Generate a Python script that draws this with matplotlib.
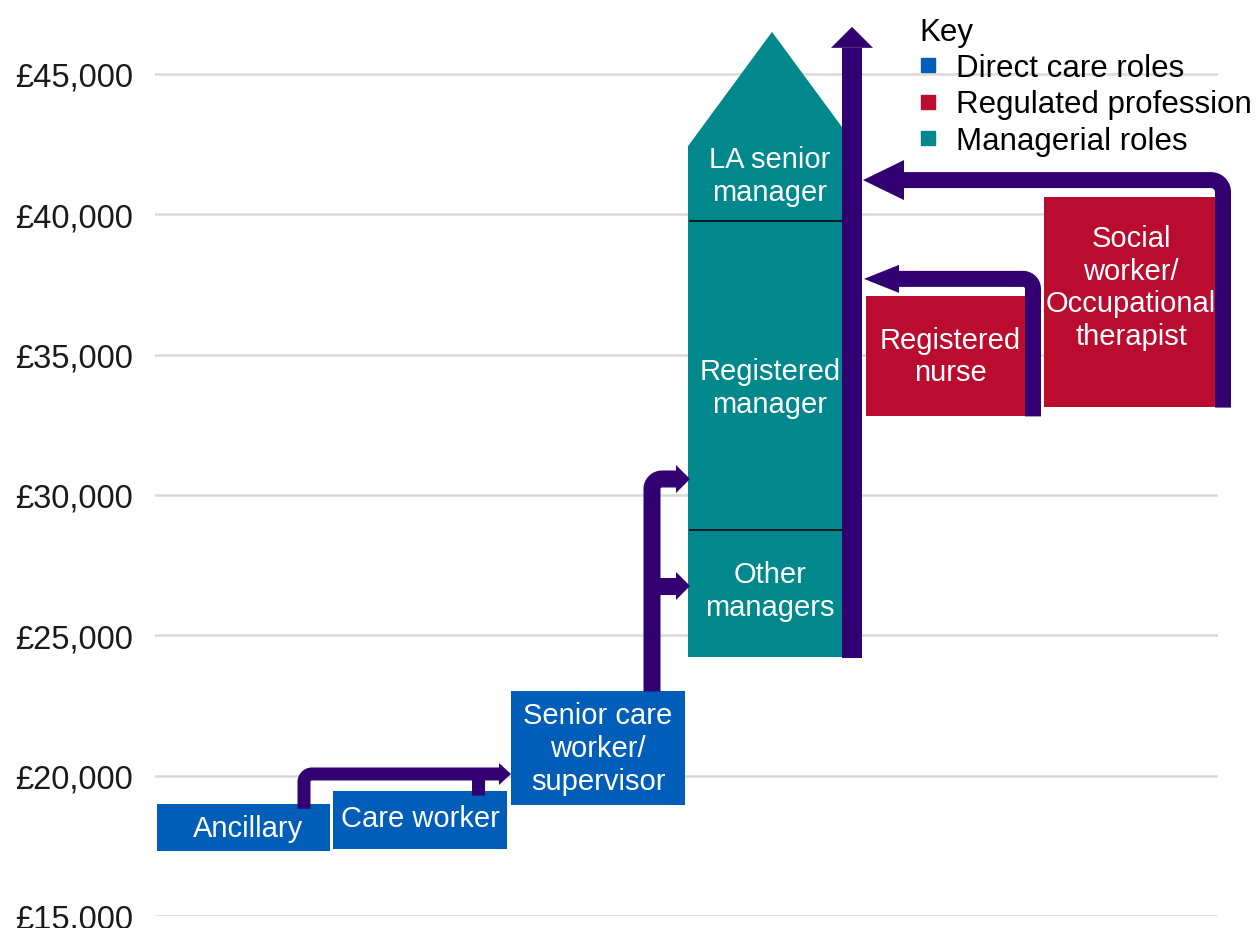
import matplotlib.pyplot as plt
import numpy as np
from matplotlib.lines import Line2D

plt.rcParams['font.family'] = ['Liberation Sans', 'DejaVu Sans']

# salary bands (GBP)
roles = ['Ancillary', 'Care worker', 'Senior care\nworker/\nsupervisor',
         'Other\nmanagers', 'Registered\nmanager', 'LA senior\nmanager',
         'Registered\nnurse', 'Social\nworker/\nOccupational\ntherapist']
role_group = ['direct', 'direct', 'direct', 'manager', 'manager', 'manager',
              'regulated', 'regulated']
salary_low = [17300, 17400, 18950, 24230, 28750, 39760, 32800, 33150]
salary_high = [19000, 19450, 23000, 28750, 39760, 42430, 37100, 40600]

# progression arrows: salary level where each route runs / points
route_direct = 20060          # ancillary / care worker -> senior care worker
route_senior = [30570, 26760]  # senior care worker -> registered / other managers
route_nurse = 37700
route_social = 41220
ladder = [24200, 46680]       # management ladder, bottom to tip

key_labels = ['Direct care roles', 'Regulated profession', 'Managerial roles']
yticks = [15000, 20000, 25000, 30000, 35000, 40000, 45000]

# styles / layout
colors = {'direct': '#005EB8', 'regulated': '#BA0C2F', 'manager': '#00888C'}
arrow_c = '#330072'
W, H = 1258, 929
PY = 1000 / 28.067           # salary units per pixel
box_left = [157, 333, 511, 688, 688, 688, 866, 1044]
box_right = [330, 507, 685, 856, 856, 856, 1025, 1215]
text_x = [248, 420, 598, 770, 770, 770, 950, 1131]
text_dy = [0, -2, 0, -3, 12, -8, 0, -15]   # pixel nudges of the labels (+ = down)
roof_peak = 46500

fig = plt.figure(figsize=(W / 100, H / 100), dpi=100)
ax = fig.add_axes([155 / W, 12 / H, 1063 / W, 917 / H])
ax.set_xlim(155, 1218)
ax.set_ylim(15000, 15000 + 917 * PY)
for s in ax.spines.values():
    s.set_visible(False)
ax.set_xticks([])
ax.set_yticks(yticks)
ax.set_yticklabels([f'£{v:,}' for v in yticks], fontsize=23.5, color='#1a1a1a')
ax.tick_params(axis='y', length=0, pad=16)
for v in yticks:
    ax.axhline(v, color='#d9d9d9', lw=1.8, zorder=0)

# boxes
for i, r in enumerate(roles):
    c = colors[role_group[i]]
    x0, x1 = box_left[i], box_right[i]
    lo, hi = salary_low[i], salary_high[i]
    if i == 5:
        # top managerial box drawn as a house shape
        ax.fill([x0, x1, x1, (x0 + x1) / 2, x0], [lo, lo, hi, roof_peak, hi],
                color=c, lw=0, zorder=2, clip_on=False)
    else:
        ax.fill([x0, x1, x1, x0], [lo, lo, hi, hi], color=c, lw=0, zorder=2,
                clip_on=False)
    ax.text(text_x[i], (lo + hi) / 2 - text_dy[i] * PY, r, color='white',
            fontsize=21, ha='center', va='center', linespacing=1.22, zorder=5)

# dividers inside the managerial column
for v in salary_low[4:6]:
    ax.plot([690, 843], [v, v], color='black', lw=1.1, zorder=3)


def bent_arrow(x0, y0, y1, x1, width, head_len, head_half, r):
    d = 1 if x1 > x0 else -1
    cx, cy = x0 + d * r, y1 - r * PY
    t = np.linspace(np.pi if d > 0 else 0, np.pi / 2, 20)
    xs = np.concatenate([[x0], cx + r * np.cos(t), [x1 - d * head_len]])
    ys = np.concatenate([[y0], cy + r * np.sin(t) * PY, [y1]])
    ax.plot(xs, ys, color=arrow_c, lw=width * 0.72, solid_capstyle='butt',
            solid_joinstyle='round', zorder=4, clip_on=False)
    arrow_head(x1, y1, d, head_len, head_half)


def arrow_head(x1, y1, d, head_len, head_half):
    ax.fill([x1, x1 - d * head_len, x1 - d * head_len],
            [y1, y1 + head_half * PY, y1 - head_half * PY],
            color=arrow_c, lw=0, zorder=4, clip_on=False)


# ancillary -> senior care, with care worker branch
bent_arrow(304, salary_high[0] - 5 * PY, route_direct, 511, 13, 12, 11, 8)
ax.plot([478, 478], [route_direct, salary_high[1] - 4 * PY], color=arrow_c,
        lw=13 * 0.72, solid_capstyle='butt', zorder=4)

# senior care -> managers
bent_arrow(652, salary_high[2], route_senior[0], 690, 17, 14, 14, 10)
ax.plot([652, 676], [route_senior[1]] * 2, color=arrow_c, lw=17 * 0.72,
        solid_capstyle='butt', zorder=4)
arrow_head(690, route_senior[1], 1, 14, 14)

# management ladder
ax.plot([852, 852], [ladder[0], ladder[1] - 21 * PY], color=arrow_c,
        lw=20 * 0.72, solid_capstyle='butt', zorder=4, clip_on=False)
ax.fill([831, 873, 852], [ladder[1] - 21 * PY, ladder[1] - 21 * PY, ladder[1]],
        color=arrow_c, lw=0, zorder=4, clip_on=False)

# regulated professions -> management
bent_arrow(1033, salary_low[6], route_nurse, 864, 16, 35, 14, 10)
bent_arrow(1223, salary_low[7] - 1 * PY, route_social, 863, 16, 41, 20, 12)

# key
handles = [Line2D([], [], marker='s', ls='none', color=colors[g], markersize=10)
           for g in ['direct', 'regulated', 'manager']]
fig.legend(handles, key_labels, title='Key', loc='upper left',
           bbox_to_anchor=(919 / W, 1 - 18 / H), frameon=False, fontsize=22.5,
           title_fontsize=22.5, alignment='left', handlelength=0.6,
           handletextpad=0.6, labelspacing=0.2, borderpad=0, borderaxespad=0)

fig.savefig('out.png', dpi=100)
